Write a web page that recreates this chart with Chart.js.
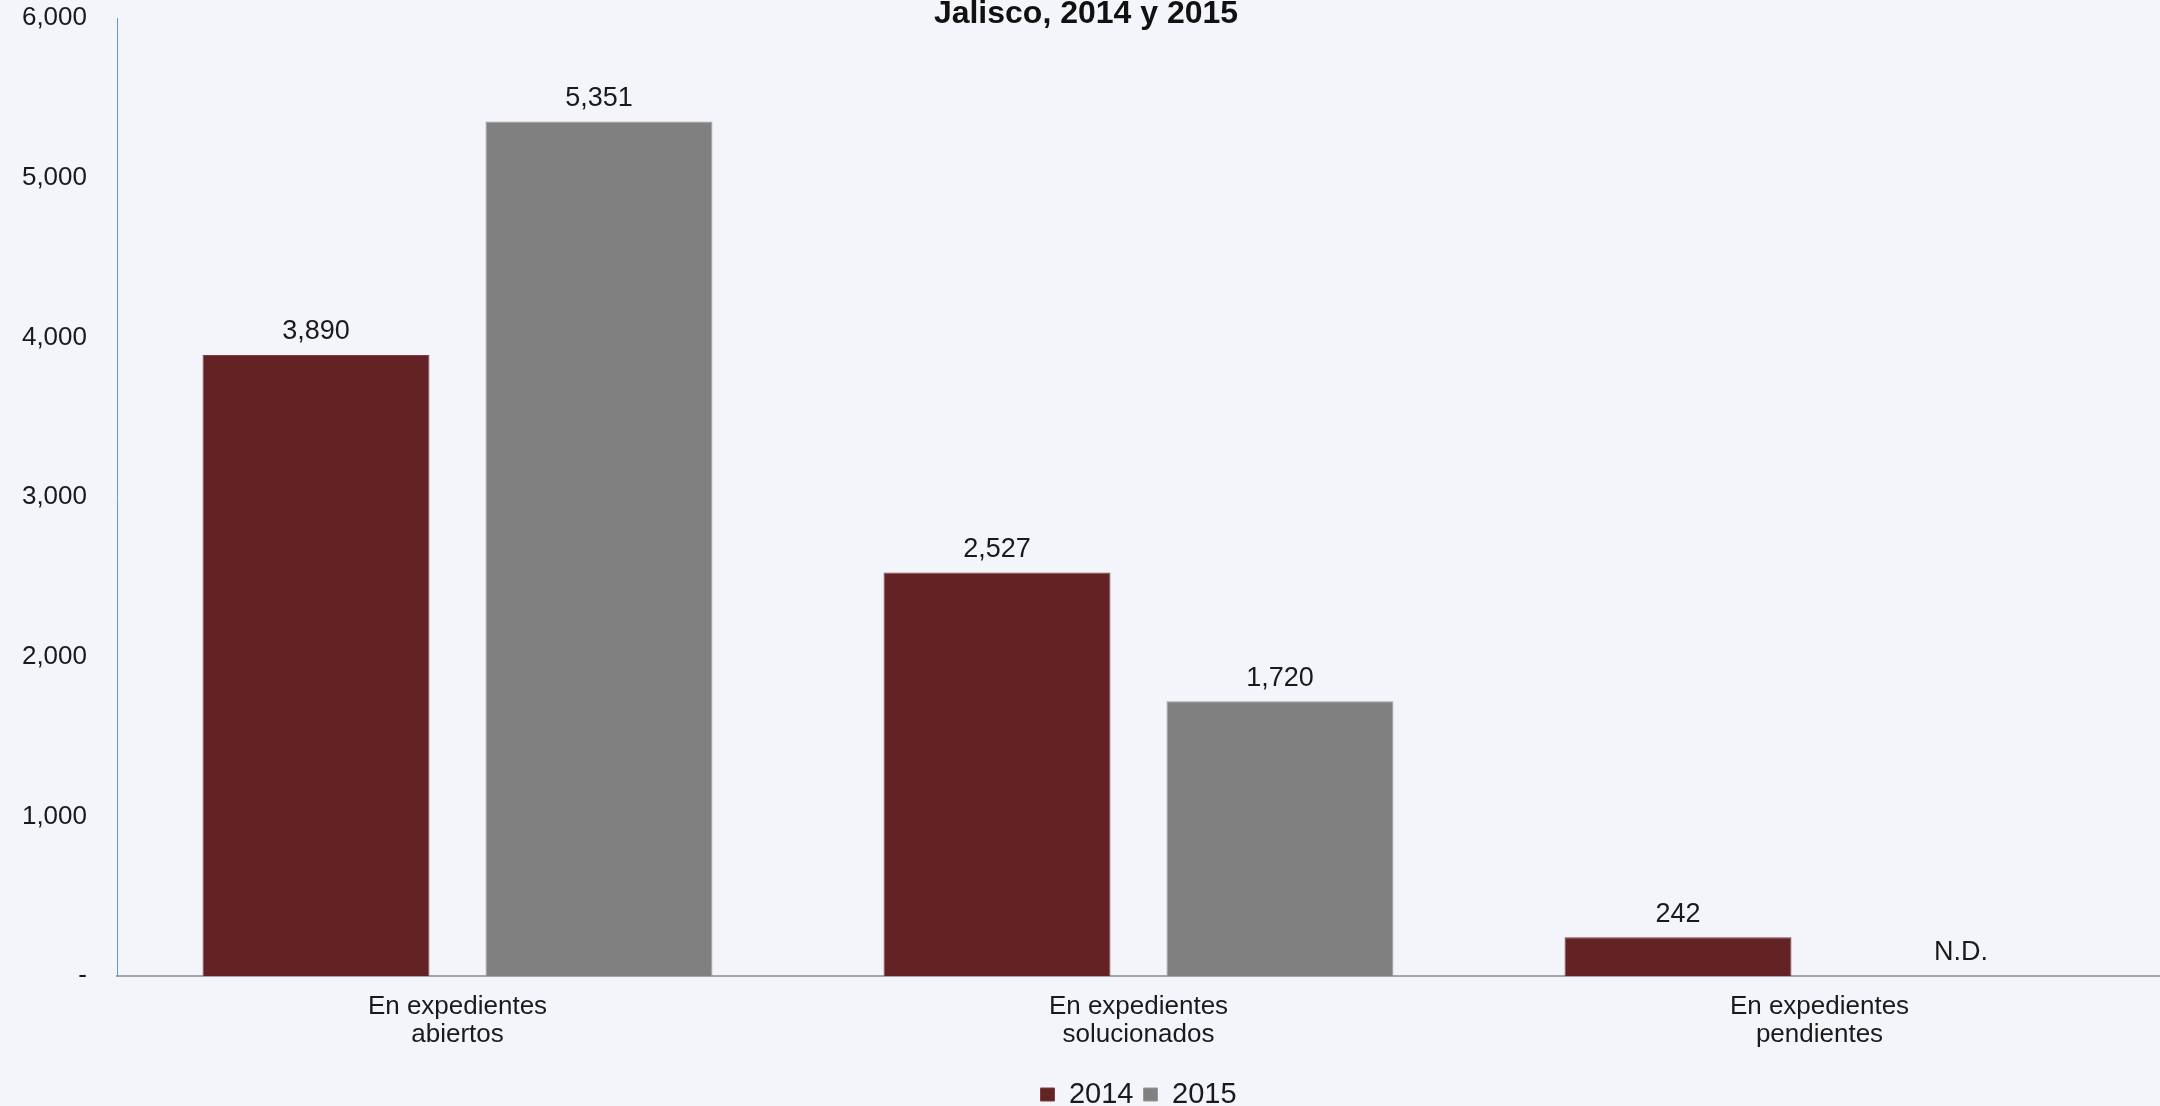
<!DOCTYPE html>
<html>
<head>
<meta charset="utf-8">
<script src="https://cdn.jsdelivr.net/npm/chart.js@4.4.1/dist/chart.umd.min.js"></script>
<style>
  html, body { margin: 0; padding: 0; background: #F4F5FA; }
  canvas { display: block; }
</style>
</head>
<body>
<canvas id="c" width="2160" height="1106"></canvas>
<script>
const chartTitle = "Jalisco, 2014 y 2015";
const categories = [["En expedientes", "abiertos"], ["En expedientes", "solucionados"], ["En expedientes", "pendientes"]];
const seriesNames = ["2014", "2015"];
const values2014 = [3890, 2527, 242];
const values2015 = [5351, 1720, null];
const missingLabel = "N.D.";
const yTicks = [0, 1000, 2000, 3000, 4000, 5000, 6000];

const FONT = "'Liberation Sans', Arial, sans-serif";
const TEXT = "#1a1a1a";

const fmt = v => v === 0 ? "-" : v.toLocaleString("en-US");

const titlePlugin = {
  id: "topTitle",
  afterDraw(chart) {
    const ctx = chart.ctx;
    ctx.save();
    ctx.font = "bold 32px " + FONT;
    ctx.fillStyle = "#111";
    ctx.textAlign = "center";
    ctx.textBaseline = "alphabetic";
    ctx.fillText(chartTitle, 1086, 23);
    ctx.restore();
  }
};

const valueLabels = {
  id: "valueLabels",
  afterDatasetsDraw(chart) {
    const ctx = chart.ctx;
    const yScale = chart.scales.y;
    ctx.save();
    ctx.font = "27px " + FONT;
    ctx.fillStyle = TEXT;
    ctx.textAlign = "center";
    ctx.textBaseline = "middle";
    chart.data.datasets.forEach((ds, di) => {
      const meta = chart.getDatasetMeta(di);
      meta.data.forEach((bar, i) => {
        const v = ds.data[i];
        const x = bar.x;
        if (v === null || v === undefined) {
          ctx.fillText(missingLabel, x, yScale.getPixelForValue(0) - 23);
        } else {
          ctx.fillText(v.toLocaleString("en-US"), x, yScale.getPixelForValue(v) - 23);
        }
      });
    });
    ctx.restore();
  }
};

new Chart(document.getElementById("c"), {
  type: "bar",
  data: {
    labels: categories,
    datasets: [
      { label: seriesNames[0], data: values2014, backgroundColor: "#632325", borderColor: "#7d3f40", borderWidth: 1,
        categoryPercentage: 0.831, barPercentage: 0.802 },
      { label: seriesNames[1], data: values2015, backgroundColor: "#808080", borderColor: "#999999", borderWidth: 1,
        categoryPercentage: 0.831, barPercentage: 0.802 }
    ]
  },
  options: {
    responsive: false,
    animation: false,
    devicePixelRatio: 1,
    layout: { padding: { top: 18, left: 0, right: 0, bottom: -13 } },
    plugins: {
      title: { display: false },
      tooltip: { enabled: false },
      legend: {
        display: true,
        position: "bottom",
        fullSize: false,
        labels: { color: TEXT, font: { family: FONT, size: 29 }, boxWidth: 14, boxHeight: 13, padding: 10 }
      }
    },
    scales: {
      x: {
        grid: { display: false, drawTicks: false },
        border: { display: true, color: "#A6A6A6", width: 2 },
        ticks: { color: TEXT, font: { family: FONT, size: 26, lineHeight: 1.06 }, padding: 17, maxRotation: 0, autoSkip: false },
        afterFit(scale) { scale.height = 94; scale.paddingLeft = 0; scale.paddingRight = 0; }
      },
      y: {
        min: 0, max: 6000,
        afterBuildTicks(scale) { scale.ticks = yTicks.map(v => ({ value: v })); },
        grid: { display: false, drawTicks: false },
        border: { display: true, color: "#5B9BD5", width: 1 },
        ticks: { color: TEXT, font: { family: FONT, size: 26 }, padding: 30, callback: v => fmt(v) },
        afterFit(scale) { scale.width = 117; scale.paddingTop = 0; scale.paddingBottom = 0; }
      }
    }
  },
  plugins: [titlePlugin, valueLabels]
});
</script>
</body>
</html>
